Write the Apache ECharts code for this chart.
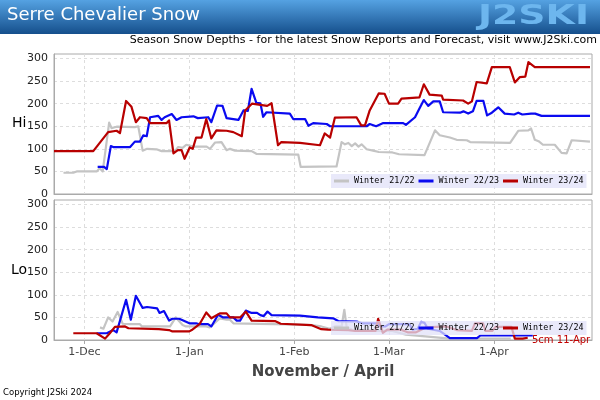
<!DOCTYPE html>
<html><head><meta charset="utf-8">
<script src="https://cdn.jsdelivr.net/npm/echarts@6/dist/echarts.min.js"></script>
<style>html,body{margin:0;padding:0;background:#fff}#c{width:600px;height:400px}</style>
</head><body><div id="c"></div>
<script>
// Day numbers counted from 1-Nov (=0). 1-Dec=30, 1-Jan=61, 1-Feb=92, 1-Mar=120, 1-Apr=151
const seriesNames = ['Winter 21/22', 'Winter 22/23', 'Winter 23/24'];
const monthTickDays = [30, 61, 92, 120, 151];
const monthTickLabels = ['1-Dec', '1-Jan', '1-Feb', '1-Mar', '1-Apr'];
const yTicks = [0, 50, 100, 150, 200, 250, 300];

const hi2122 = [[23.8,47],[26.7,47],[27.7,50],[33.6,50],[34.5,57],[35.4,50],[37.3,158],[38,146],[39.5,149],[44.9,148],[45.9,150],[47.2,96],[48.5,100],[51.3,99],[52.8,95],[56.8,95],[57.7,104],[59,102],[60.1,109],[62.2,105],[66.1,105],[67.1,100],[68.6,114],[70.5,115],[71,117],[72,97],[73,100],[74.5,96],[79.4,95],[80.8,89],[93.2,87],[93.9,60],[104.5,61],[106,115],[107,110],[108,113],[109,106],[110,112],[111,105],[111.9,110],[113.4,99],[115.3,96],[117,93],[121,92],[123,88],[130.5,86],[133.6,141],[135,130],[138,125],[140,120],[143,119],[144,115],[155.8,113],[158.2,140],[161.2,141],[162,145],[163.1,120],[164.2,117],[165.5,109],[169,109],[171,91],[172.5,90],[174,119],[179.4,116]];
const hi2223 = [[33.9,60],[35.8,60],[36.6,55],[37.8,106],[38.5,104],[43.5,104],[44.9,116],[46.4,116],[47.4,130],[48.4,128],[49.4,170],[51.8,173],[52.8,164],[53.7,170],[55.8,177],[57.2,164],[58.7,170],[62.2,172],[63.5,168],[66.6,170],[67.5,159],[69.2,196],[70.8,195],[72,168],[75.5,164],[77,185],[78.3,184],[79.4,233],[80.8,202],[82,201],[82.8,171],[83.8,181],[90.7,178],[91.7,166],[95.2,166],[96.2,151],[97.6,157],[101.6,155],[102.6,150],[113.4,150],[114.3,155],[116.2,150],[118.3,157],[124.2,157],[125,153],[127.7,170],[128.7,185],[130.3,208],[131.6,195],[133.1,205],[135,205],[136,181],[141,180],[142,183],[143.4,178],[144.8,183],[145.9,206],[147.9,206],[149,174],[150.4,180],[152.3,192],[154.2,178],[157,176],[158.2,180],[159.4,176],[162,178],[163.2,178],[165.1,173],[179.4,173]];
const hi2324 = [[21,95],[32.6,95],[37,137],[39.5,140],[40.5,135],[42.3,206],[43.9,193],[45.2,159],[46.4,170],[48.4,168],[49.4,157],[54.3,157],[55,163],[56.3,90],[57.6,97],[58.7,97],[59.6,78],[61.1,103],[62,100],[63,125],[64.6,125],[66,166],[67.5,123],[69,141],[72,140],[74,137],[76.5,128],[77.5,185],[79.5,200],[84,195],[85.3,201],[87.2,108],[88.2,115],[93.7,113],[99.6,108],[101,134],[102.6,125],[104,169],[110.4,170],[111.8,152],[112.9,152],[114.3,185],[117,223],[118.7,222],[120,200],[122.7,200],[123.7,211],[127,213],[129,214],[130.3,243],[132,220],[135.6,218],[136,209],[141.9,207],[143.4,200],[144.5,205],[145.9,248],[148.9,245],[150.4,281],[155.7,281],[157.2,247],[158.7,259],[160.3,260],[161.2,292],[163.1,281],[179.4,281]];

const lo2122 = [[34.6,28],[35.6,25],[37,50],[38.3,41],[39.8,62],[41.3,36],[43.5,35],[46.4,35],[47,30],[55.3,30],[57,50],[59,33],[60,30],[66,30],[67,28],[70,48],[72,45],[73,45],[74,37],[93.7,34],[97,33],[100,30],[102.5,25],[104,30],[106,30],[106.8,67],[107.5,28],[109,23],[117,20],[121,20],[125,12],[138,3],[156,3]];
const lo2223 = [[33.6,15],[36.6,15],[38.5,22],[39.5,17],[42.3,89],[43.7,45],[45.2,98],[47.2,71],[48.5,73],[51.5,70],[52.2,60],[53.5,64],[55,43],[56,47],[58,47],[59.2,43],[61,37],[63,37],[64,35],[66.5,35],[67.5,30],[69.5,56],[71,50],[74,50],[75,43],[76,43],[77.7,65],[79.4,60],[81,60],[82,55],[83,53],[84.1,63],[85.3,55],[93.7,54],[99,50],[103.5,48],[105,42],[110.5,41],[112,37],[116.5,37],[117.5,30],[119,30],[120,35],[126,35],[127,23],[128.5,25],[129.5,40],[130.5,38],[131.5,25],[135,20],[138,4],[146,4],[147,10],[162.5,10]];
const lo2324 = [[26.7,15],[33.6,15],[36.1,3],[37.5,15],[39,29],[42,30],[43,26],[52,24],[55,22],[56,19],[61,19],[61.7,22],[64,35],[66,61],[67.5,48],[70,59],[72,59],[73,50],[76,50],[77.7,63],[79.4,43],[86.3,42],[88,36],[97,33],[100,24],[102,23],[108,22],[110,20],[116,20],[116.8,47],[118.2,16],[119.5,23],[123.5,23],[125.5,17],[128,17],[131,28],[137,30],[140,22],[144.5,20],[145.4,37],[147.8,37],[148.5,20],[150.5,20],[151.5,29],[156.2,29],[157.2,3],[159.5,3],[161,5]];

const colors = ['#c4c4c4', '#0a0af0', '#b80000'];
const font = 'DejaVu Sans';

function mkX(gi, showLabel) {
  return {
    type: 'value', gridIndex: gi, min: 21, max: 180,
    axisLine: {show: true, lineStyle: {color: '#aaaaaa'}},
    axisTick: {show: showLabel, customValues: monthTickDays, length: 4, lineStyle: {color: '#aaaaaa'}},
    axisLabel: {show: showLabel, customValues: monthTickDays, color: '#444', fontFamily: font, fontSize: 11, margin: 7,
      formatter: v => monthTickLabels[monthTickDays.indexOf(Math.round(v))] || ''},
    splitLine: {show: true, lineStyle: {color: '#dddddd', type: [3, 3]}},
    name: showLabel ? 'November / April' : '', nameLocation: 'middle', nameGap: 25,
    nameTextStyle: {fontFamily: font, fontSize: 15, fontWeight: 'bold', color: '#444'}
  };
}
function mkY(gi) {
  return {
    type: 'value', gridIndex: gi, min: 0, max: 310,
    axisLine: {show: true, lineStyle: {color: '#aaaaaa'}},
    axisTick: {show: false, customValues: yTicks},
    axisLabel: {customValues: yTicks, color: '#222', fontFamily: font, fontSize: 11, margin: 6},
    splitLine: {show: true, lineStyle: {color: '#dddddd', type: [3, 3]}}
  };
}
function mkS(name, data, gi, ci) {
  return {type: 'line', name: name, xAxisIndex: gi, yAxisIndex: gi, data: data,
    showSymbol: false, symbol: 'none', animation: false, lineStyle: {width: 2.2, color: colors[ci], join: 'round'},
    itemStyle: {color: colors[ci]}};
}
function mkLegend(top) {
  return {left: 331, top: top, width: 300, orient: 'horizontal', icon: 'rect', itemWidth: 15, itemHeight: 3, itemGap: 4,
    padding: [3, 3], backgroundColor: 'rgba(226,226,248,0.75)', data: seriesNames,
    textStyle: {fontFamily: 'DejaVu Sans Mono', fontSize: 8.4, color: '#000'}, selectedMode: false};
}

const chart = echarts.init(document.getElementById('c'), null, {renderer: 'canvas'});
chart.setOption({
  animation: false,
  grid: [
    {left: 54, right: 8, top: 54, height: 140, show: true, borderColor: '#aaaaaa', borderWidth: 1},
    {left: 54, right: 8, top: 200, height: 140, show: true, borderColor: '#aaaaaa', borderWidth: 1}
  ],
  xAxis: [mkX(0, false), mkX(1, true)],
  yAxis: [mkY(0), mkY(1)],
  legend: [mkLegend(174), mkLegend(321)],
  series: [
    mkS(seriesNames[0], hi2122, 0, 0), mkS(seriesNames[1], hi2223, 0, 1), mkS(seriesNames[2], hi2324, 0, 2),
    mkS(seriesNames[0], lo2122, 1, 0), mkS(seriesNames[1], lo2223, 1, 1), mkS(seriesNames[2], lo2324, 1, 2)
  ],
  graphic: [
    {type: 'rect', left: 0, top: 0, shape: {width: 600, height: 34}, z: 0,
      style: {fill: new echarts.graphic.LinearGradient(0, 0, 0, 1, [{offset: 0, color: '#55a2e2'}, {offset: 1, color: '#154f8c'}])}},
    {type: 'text', left: 7, top: 6, style: {text: 'Serre Chevalier Snow', fill: '#ffffff', font: '18px "DejaVu Sans"'}},
    {type: 'text', x: 478, y: 3, scaleX: 1.4, style: {text: 'J2SKI', fill: '#6db6ee', font: 'bold 27px "DejaVu Sans"'}},
    {type: 'text', right: 3, top: 35, style: {text: 'Season Snow Depths - for the latest Snow Reports and Forecast, visit www.J2Ski.com', fill: '#000', font: '11px "DejaVu Sans"'}},
    {type: 'text', left: 12, top: 116, style: {text: 'Hi', fill: '#000', font: '14px "DejaVu Sans"'}},
    {type: 'text', left: 11, top: 263, style: {text: 'Lo', fill: '#000', font: '14px "DejaVu Sans"'}},
    {type: 'text', left: 532, top: 335, z: 1, style: {text: '5cm 11-Apr', fill: '#c00000', font: '10px "DejaVu Sans"'}},
    {type: 'text', left: 3, top: 388, style: {text: 'Copyright J2Ski 2024', fill: '#000', font: '8.5px "DejaVu Sans"'}}
  ]
});
</script></body></html>
